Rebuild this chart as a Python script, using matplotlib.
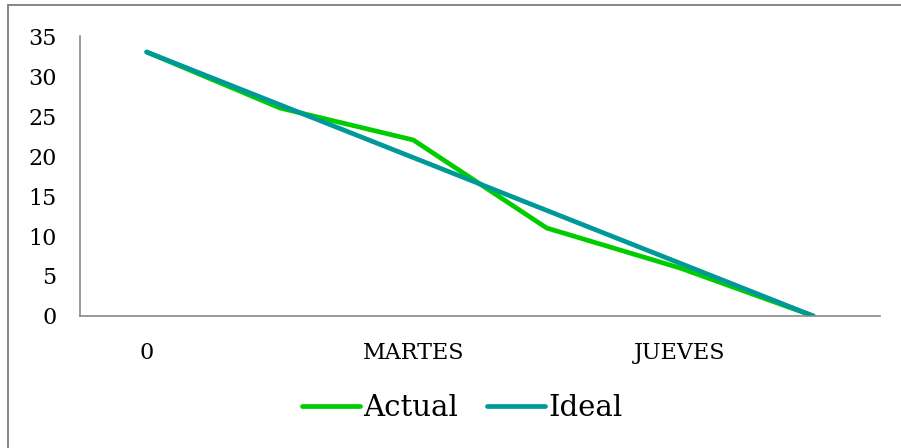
import matplotlib
matplotlib.use("Agg")
import matplotlib.pyplot as plt
from matplotlib.patches import Rectangle

# Burndown data: remaining work per day
days = ["0", "LUNES", "MARTES", "MIERCOLES", "JUEVES", "VIERNES"]
tick_labels = ["0", "", "MARTES", "", "JUEVES", ""]
actual = [33, 26, 22, 11, 6, 0]
ideal = [33, 26.4, 19.8, 13.2, 6.6, 0]
y_ticks = [0, 5, 10, 15, 20, 25, 30, 35]

W, H = 901, 448
fig = plt.figure(figsize=(W / 100, H / 100), dpi=100)
fig.patch.set_facecolor("white")

font = ["DejaVu Serif"]

# chart-area border (open on the right and bottom)
fig.patches.append(Rectangle((8 / W, -0.05), 1.1, (H - 5) / H + 0.05,
                             transform=fig.transFigure, fill=False,
                             edgecolor="#858585", linewidth=1.4, zorder=0))

ax = fig.add_axes([80 / W, (H - 316) / H, (880 - 80) / W, (316 - 36) / H])
x = list(range(len(days)))
la, = ax.plot(x, actual, color="#00CC00", linewidth=3.4,
              solid_capstyle="round", solid_joinstyle="miter", label="Actual")
li, = ax.plot(x, ideal, color="#009999", linewidth=3.4,
              solid_capstyle="round", solid_joinstyle="miter", label="Ideal")

ax.set_xlim(-0.5, len(days) - 0.5)
ax.set_ylim(0, 35)
ax.set_yticks(y_ticks)
ax.set_yticklabels([str(v) for v in y_ticks], family=font, fontsize=16)
ax.set_xticks(x)
ax.set_xticklabels(tick_labels, family=font, fontsize=16)
ax.tick_params(axis="y", length=0, pad=17)
ax.tick_params(axis="x", length=0, pad=19)

for side in ("top", "right"):
    ax.spines[side].set_visible(False)
for side in ("left", "bottom"):
    ax.spines[side].set_color("#888888")
    ax.spines[side].set_linewidth(1.2)

leg = fig.legend(handles=[la, li], loc="center", bbox_to_anchor=(462 / W, (H - 408) / H),
                 ncol=2, frameon=False, prop={"family": font, "size": 21},
                 handlelength=2.0, handletextpad=0.1, columnspacing=1.0)

fig.savefig("out.png", dpi=100, facecolor="white")
